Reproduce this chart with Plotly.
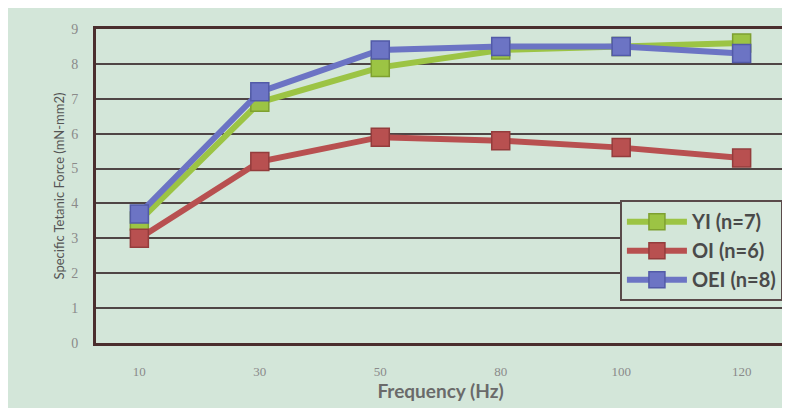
import plotly.graph_objects as go

# Frequency categories (Hz) and specific tetanic force (mN-mm2)
frequency = ["10", "30", "50", "80", "100", "120"]
yi = [3.5, 6.9, 7.9, 8.4, 8.5, 8.6]
oi = [3.0, 5.2, 5.9, 5.8, 5.6, 5.3]
oei = [3.7, 7.2, 8.4, 8.5, 8.5, 8.3]

series = [
    ("YI (n=7)", yi, "#9cc444", "#7ea030"),
    ("OI (n=6)", oi, "#b85050", "#943c3c"),
    ("OEI (n=8)", oei, "#6c74c4", "#525aa8"),
]

bg = "#d3e6d9"

fig = go.Figure()
for name, vals, col, edge in series:
    fig.add_trace(go.Scatter(
        x=frequency, y=vals, name=name, mode="lines+markers",
        line=dict(color=col, width=6),
        marker=dict(symbol="square", size=18, color=col,
                    line=dict(color=edge, width=1.5)),
    ))

fig.update_layout(
    width=790, height=408,
    paper_bgcolor=bg, plot_bgcolor=bg,
    margin=dict(l=88, r=10, t=21, b=73),
    font=dict(family="Lato, Open Sans, sans-serif", color="#555555"),
    showlegend=True,
    legend=dict(
        x=0.997, y=0.455, xanchor="right", yanchor="top",
        bgcolor=bg, bordercolor="#5a4a4a", borderwidth=2,
        font=dict(size=20, color="#4a4a4a", family="Lato, sans-serif", weight="bold"),
        itemwidth=60, tracegroupgap=8,
    ),
)

fig.update_xaxes(
    type="category", range=[-0.36, 5.36],
    showgrid=False, showline=True, linecolor="#4a2e2e", linewidth=3, mirror=True,
    ticks="", tickfont=dict(family="Liberation Serif, serif", size=13, color="#8a8a8a"),
    ticklabelstandoff=14,
    title=dict(text="<b>Frequency (Hz)</b>", font=dict(size=19, color="#6a6a6a"), standoff=8),
)
fig.update_yaxes(
    range=[0, 9], dtick=1,
    showgrid=True, gridcolor="#4f4545", gridwidth=2,
    zeroline=False, showline=True, linecolor="#4a2e2e", linewidth=3, mirror=True,
    ticks="", ticklabelstandoff=12,
    tickfont=dict(family="Liberation Serif, serif", size=14, color="#8a8a8a"),
    title=dict(text="Specific Tetanic Force (mN-mm2)", font=dict(size=13, color="#555555"), standoff=4),
)

fig.write_html("out.html")
